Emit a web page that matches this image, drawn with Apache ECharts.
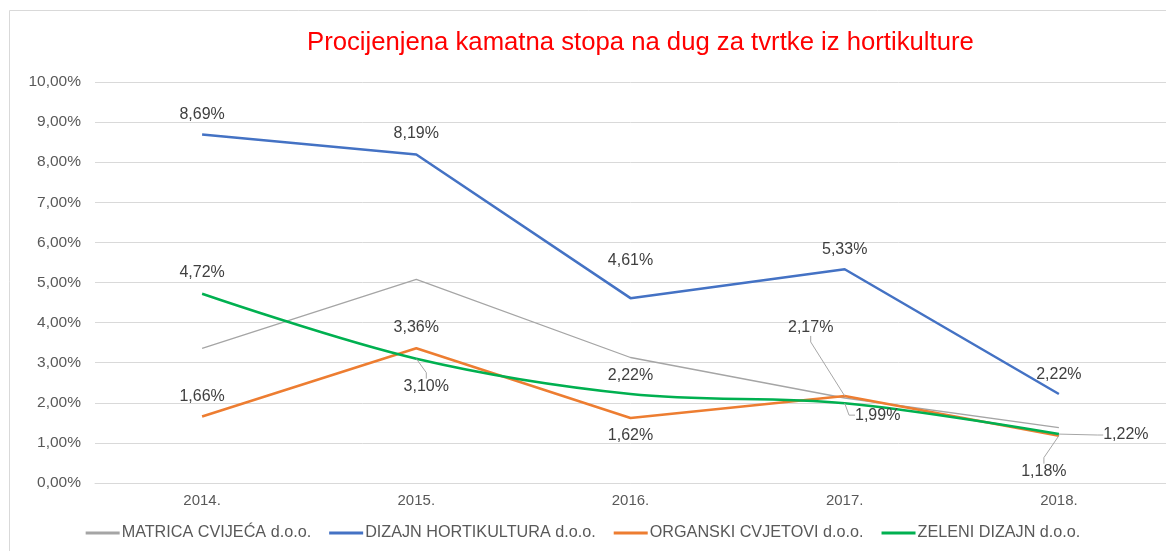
<!DOCTYPE html>
<html>
<head>
<meta charset="utf-8">
<script src="https://cdn.jsdelivr.net/npm/echarts@6/dist/echarts.min.js"></script>
<style>
    html, body { margin: 0; padding: 0; background: #fff; }
    #chart { width: 1166px; height: 551px; }
</style>
</head>
<body>
<div id="chart"></div>
<script>
let years = ['2014.', '2015.', '2016.', '2017.', '2018.'];
let matrica = [3.36, 5.08, 3.13, 2.12, 1.38];
let dizajn = [8.69, 8.19, 4.61, 5.33, 2.22];
let organski = [1.66, 3.36, 1.62, 2.17, 1.18];
let zeleni = [4.72, 3.10, 2.22, 1.99, 1.22];
let yTicks = [0, 1, 2, 3, 4, 5, 6, 7, 8, 9, 10];

function pct(v) {
    return v.toFixed(2).replace('.', ',') + '%';
}

// pomaci oznaka (dx, dy) i da li ide linija vodilja
let blueLab = [[0, -7], [0, -8], [0, -24], [0, -7], [0, -6]];
let greenLab = [[0, -8], [10, 41, 1], [0, -5], [33, 25, 1], [67, 14, 1]];
let orangeLab = [[0, -7], [0, -8], [0, 31], [-34, -55, 1], [-15, 49, 1]];

function items(values, lab) {
    return values.map(function (v, i) {
        let it = { value: v };
        if (lab[i][2]) {
            it.labelLine = { show: true };
        }
        return it;
    });
}

function layoutFn(lab) {
    return function (params) {
        let o = lab[params.dataIndex];
        return { dx: o[0], dy: o[1] };
    };
}

let labelStyle = {
    show: true,
    position: 'top',
    distance: 5,
    color: '#404040',
    fontSize: 16,
    fontFamily: 'Liberation Sans, Arial, sans-serif',
    formatter: function (p) { return pct(p.value); }
};
let guide = {
    show: false,
    length2: 6,
    lineStyle: { color: '#a6a6a6', width: 1 }
};

let myChart = echarts.init(document.getElementById('chart'));
let option = {
    animation: false,
    textStyle: { fontFamily: 'Liberation Sans, Arial, sans-serif' },
    graphic: [{
        type: 'rect',
        shape: { x: 9.5, y: 10.5, width: 1170, height: 570 },
        style: { fill: 'none', stroke: '#d9d9d9', lineWidth: 1 },
        silent: true
    }],
    title: {
        text: 'Procijenjena kamatna stopa na dug za tvrtke iz hortikulture',
        left: 302,
        top: 25,
        textStyle: { color: '#ff0000', fontSize: 25.7, fontWeight: 'normal' }
    },
    legend: {
        left: 'center',
        top: 520,
        icon: 'rect',
        itemWidth: 34,
        itemHeight: 3,
        itemGap: 18,
        textStyle: { color: '#595959', fontSize: 16.2, padding: [0, 0, 0, -3] },
        data: ['MATRICA CVIJEĆA d.o.o.', 'DIZAJN HORTIKULTURA d.o.o.', 'ORGANSKI CVJETOVI d.o.o.', 'ZELENI DIZAJN d.o.o.']
    },
    grid: { left: 95, right: -2, top: 82, bottom: 68 },
    xAxis: {
        type: 'category',
        data: years,
        boundaryGap: true,
        axisLine: { lineStyle: { color: '#d9d9d9' } },
        axisTick: { show: false },
        axisLabel: { color: '#595959', fontSize: 15, margin: 10 }
    },
    yAxis: {
        type: 'value',
        min: yTicks[0],
        max: yTicks[yTicks.length - 1],
        interval: 1,
        axisLine: { show: false },
        axisTick: { show: false },
        splitLine: { lineStyle: { color: '#d9d9d9', width: 1 } },
        axisLabel: { color: '#595959', fontSize: 15.5, margin: 14, formatter: function (v) { return pct(v); } }
    },
    series: [
        {
            name: 'MATRICA CVIJEĆA d.o.o.',
            type: 'line',
            data: matrica,
            symbol: 'none',
            color: '#a5a5a5',
            lineStyle: { width: 1.3 }
        },
        {
            name: 'DIZAJN HORTIKULTURA d.o.o.',
            type: 'line',
            data: items(dizajn, blueLab),
            symbol: 'circle',
            symbolSize: 0.1,
            color: '#4472c4',
            lineStyle: { width: 2.5 },
            label: labelStyle,
            labelLine: guide,
            labelLayout: layoutFn(blueLab)
        },
        {
            name: 'ORGANSKI CVJETOVI d.o.o.',
            type: 'line',
            data: items(organski, orangeLab),
            symbol: 'circle',
            symbolSize: 0.1,
            color: '#ed7d31',
            lineStyle: { width: 2.5 },
            label: labelStyle,
            labelLine: guide,
            labelLayout: layoutFn(orangeLab)
        },
        {
            name: 'ZELENI DIZAJN d.o.o.',
            type: 'line',
            data: items(zeleni, greenLab),
            symbol: 'circle',
            symbolSize: 0.1,
            smooth: 0.35,
            color: '#00b050',
            lineStyle: { width: 2.5 },
            label: labelStyle,
            labelLine: guide,
            labelLayout: layoutFn(greenLab)
        }
    ]
};
myChart.setOption(option);
</script>
</body>
</html>
